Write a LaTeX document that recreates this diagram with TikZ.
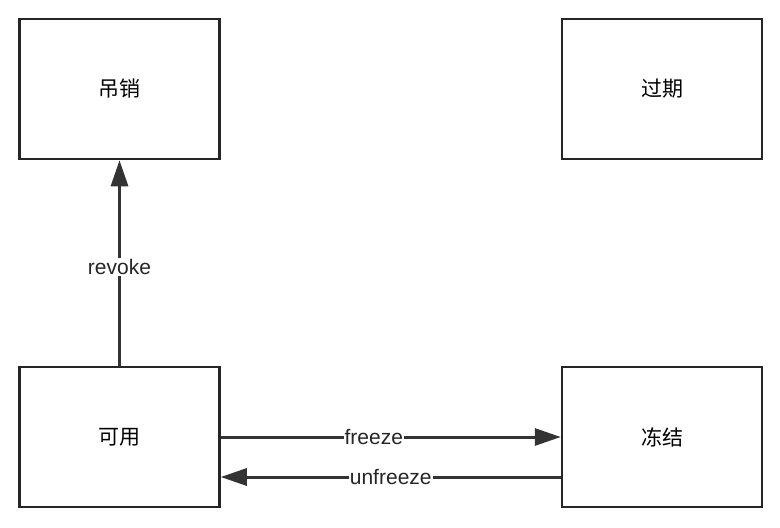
\documentclass[tikz,border=0pt]{standalone}
\usepackage{fontspec}
\setmainfont{Liberation Sans}
\newfontfamily\cjk{Noto Sans CJK SC}
\usetikzlibrary{arrows.meta}
\begin{document}
\begin{tikzpicture}[x=1pt,y=-1pt,
  box/.style={draw=black!85,line width=2.5pt,minimum width=200pt,minimum height=140pt,inner sep=0pt,font=\cjk\fontsize{21}{25}\selectfont},
  conn/.style={draw=black!80,line width=3pt,-{Triangle[length=26pt,width=17pt]}},
  lbl/.style={fill=white,inner sep=1pt,font=\fontsize{21}{25}\selectfont,text=black!85}]
\useasboundingbox[fill=white] (0,0) rectangle (780,528);
\node[box] (rev) at (119.5,89) {吊销};
\node[box] (exp) at (662,89) {过期};
\node[box] (ok) at (119.5,437) {可用};
\node[box] (frz) at (662,437) {冻结};
\draw[conn] (ok.north) -- node[lbl,pos=0.48]{revoke} (rev.south);
\draw[conn] (ok.east) -- node[lbl,pos=0.45]{freeze} (frz.west);
\draw[conn] ([yshift=-40pt]frz.west) -- node[lbl,pos=0.5]{unfreeze} ([yshift=-40pt]ok.east);
\end{tikzpicture}
\end{document}
